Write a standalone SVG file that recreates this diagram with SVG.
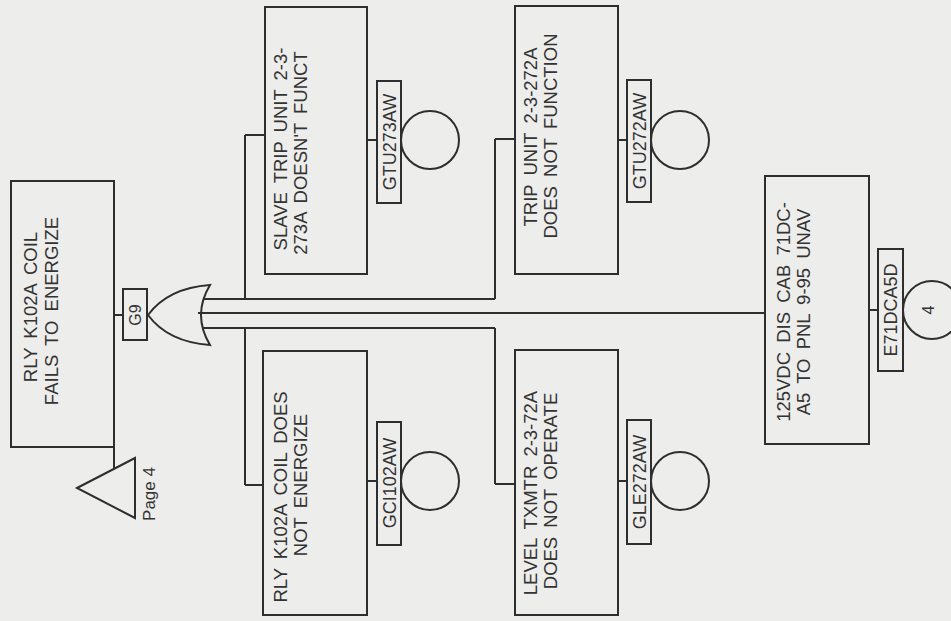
<svg xmlns="http://www.w3.org/2000/svg" width="951" height="621" viewBox="0 0 951 621">
<style>
.bx{fill:none;stroke:#2e2e2e;stroke-width:2}
.ln{fill:none;stroke:#2e2e2e;stroke-width:2}
.t{font-family:"Liberation Sans",Arial,sans-serif;font-size:18.5px;fill:#333;text-anchor:middle;word-spacing:4px}
.lb{font-family:"Liberation Sans",Arial,sans-serif;font-size:18px;fill:#333;text-anchor:middle}
</style>
<rect x="0" y="0" width="951" height="621" fill="#ededeb"/>
<g id="connectors" class="ln">
<path d="M114,315 H123"/>
<path d="M203,299 H495 M245,135 V299 M245,135 H265 M495,139 V299 M495,139 H515"/>
<path d="M198,313 H765"/>
<path d="M203,328 H495 M245,328 V485 M245,485 H263 M495,328 V484 M495,484 H515"/>
<path d="M367,140 H377 M367,481 H377 M618,140 H627 M618,481 H627 M869,310 H878"/>
<path d="M114,447 V469"/>
</g>
<g id="top">
<rect class="bx" x="11" y="181" width="103" height="266"/>
<text class="t" transform="translate(37,307) rotate(-90)">RLY K102A COIL</text>
<text class="t" transform="translate(58,311) rotate(-90)">FAILS TO ENERGIZE</text>
</g>
<g id="transfer">
<path class="bx" d="M77,488 L135,458 V518 Z"/>
<text class="t" style="font-size:17px;word-spacing:0" transform="translate(155,494) rotate(-90)">Page 4</text>
</g>
<g id="G9">
<rect class="bx" x="123" y="289" width="24" height="51"/>
<text class="lb" style="font-size:16px" transform="translate(141,315) rotate(-90)">G9</text>
<path class="bx" d="M148,315 Q168,288 210,285 Q192,315 210,345 Q168,342 148,315 Z"/>
</g>
<g id="GTU273AW">
<rect class="bx" x="265" y="7" width="102" height="267"/>
<text class="t" transform="translate(287,149) rotate(-90)">SLAVE TRIP UNIT 2-3-</text>
<text class="t" transform="translate(307,153) rotate(-90)">273A DOESN'T FUNCT</text>
<rect class="bx" x="377" y="81" width="24" height="122"/>
<text class="lb" transform="translate(396,142) rotate(-90)">GTU273AW</text>
<circle class="bx" cx="430" cy="140" r="29"/>
</g>
<g id="GCI102AW">
<rect class="bx" x="263" y="351" width="104" height="264"/>
<text class="t" transform="translate(287,497) rotate(-90)">RLY K102A COIL DOES</text>
<text class="t" transform="translate(307,485) rotate(-90)">NOT ENERGIZE</text>
<rect class="bx" x="377" y="422" width="24" height="123"/>
<text class="lb" transform="translate(396,483) rotate(-90)">GCI102AW</text>
<circle class="bx" cx="430" cy="481" r="29"/>
</g>
<g id="GTU272AW">
<rect class="bx" x="515" y="6" width="103" height="268"/>
<text class="t" transform="translate(537,137) rotate(-90)">TRIP UNIT 2-3-272A</text>
<text class="t" transform="translate(557,136) rotate(-90)">DOES NOT FUNCTION</text>
<rect class="bx" x="627" y="80" width="24" height="122"/>
<text class="lb" transform="translate(646,141) rotate(-90)">GTU272AW</text>
<circle class="bx" cx="680" cy="140" r="29"/>
</g>
<g id="GLE272AW">
<rect class="bx" x="515" y="350" width="103" height="265"/>
<text class="t" transform="translate(537,493) rotate(-90)">LEVEL TXMTR 2-3-72A</text>
<text class="t" transform="translate(557,491) rotate(-90)">DOES NOT OPERATE</text>
<rect class="bx" x="627" y="420" width="24" height="124"/>
<text class="lb" transform="translate(646,482) rotate(-90)">GLE272AW</text>
<circle class="bx" cx="680" cy="481" r="29"/>
</g>
<g id="E71DCA5D">
<rect class="bx" x="765" y="176" width="104" height="268"/>
<text class="t" transform="translate(790,312) rotate(-90)">125VDC DIS CAB 71DC-</text>
<text class="t" transform="translate(810,312) rotate(-90)">A5 TO PNL 9-95 UNAV</text>
<rect class="bx" x="878" y="249" width="25" height="122"/>
<text class="lb" transform="translate(897,310) rotate(-90)">E71DCA5D</text>
<circle class="bx" cx="932" cy="310" r="29"/>
<text class="lb" style="font-size:16px" transform="translate(934,310) rotate(-90)">4</text>
</g>
</svg>
